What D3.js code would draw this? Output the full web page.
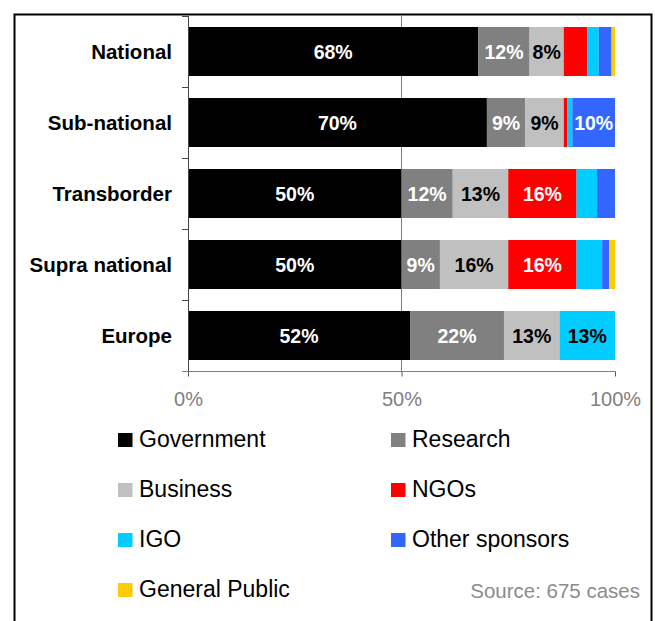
<!DOCTYPE html>
<html>
<head>
<meta charset="utf-8">
<script src="https://cdn.jsdelivr.net/npm/d3@7"></script>
<style>
  html, body { margin: 0; padding: 0; background: #fff; }
  svg { display: block; font-family: "Liberation Sans", Arial, sans-serif; }
</style>
</head>
<body>
<svg id="chart" width="655" height="621"></svg>
<script>
// Share of sponsors by project level (percent of cases)
const categories = ["National", "Sub-national", "Transborder", "Supra national", "Europe"];
const seriesNames = ["Government", "Research", "Business", "NGOs", "IGO", "Other sponsors", "General Public"];
const government    = [68, 70, 50, 50, 52];
const research      = [12,  9, 12,  9, 22];
const business      = [ 8,  9, 13, 16, 13];
const ngos          = [5.5, 0.8, 16, 16, 0];
const igo           = [2.7, 1.2, 4.8, 6, 13];
const otherSponsors = [3, 10, 4.2, 1.6, 0];
const generalPublic = [0.8, 0, 0, 1.4, 0];
const xTicks = [0, 50, 100];
const sourceNote = "Source: 675 cases";

const seriesValues = [government, research, business, ngos, igo, otherSponsors, generalPublic];
const colors = ["#000000", "#808080", "#c0c0c0", "#ff0000", "#00ccff", "#3366ff", "#ffcc00"];
const labelColors = ["#fff", "#fff", "#000", "#fff", "#000", "#fff", "#000"];

const rows = categories.map((c, i) => {
  const r = { category: c };
  seriesNames.forEach((s, k) => { r[s] = seriesValues[k][i]; });
  return r;
});

const svg = d3.select("#chart");

// outer frame
svg.append("rect")
  .attr("x", 14.5).attr("y", 14.5)
  .attr("width", 637).attr("height", 620)
  .attr("fill", "none").attr("stroke", "#000").attr("stroke-width", 2);

const x = d3.scaleLinear().domain([0, 100]).range([188, 615]);
const y = d3.scaleBand().domain(categories).range([16, 371])
  .paddingInner(0.31).paddingOuter(0.155);

const stack = d3.stack().keys(seriesNames);
const layers = stack(rows);

// gridline at 50%
svg.append("line")
  .attr("x1", x(50)).attr("x2", x(50))
  .attr("y1", 16).attr("y2", 371)
  .attr("stroke", "#808080").attr("stroke-width", 1);

// bars
const g = svg.append("g");
layers.forEach((layer, k) => {
  g.append("g").attr("fill", colors[k])
    .selectAll("rect").data(layer).join("rect")
    .attr("x", d => x(d[0]))
    .attr("y", d => y(d.data.category))
    .attr("width", d => x(d[1]) - x(d[0]))
    .attr("height", y.bandwidth());
});

// value labels for the larger segments
layers.forEach((layer, k) => {
  svg.append("g")
    .selectAll("text").data(layer.filter(d => d[1] - d[0] >= 7.5)).join("text")
    .attr("x", d => x((d[0] + d[1]) / 2))
    .attr("y", d => y(d.data.category) + y.bandwidth() / 2)
    .attr("dy", "0.36em")
    .attr("text-anchor", "middle")
    .attr("font-size", "19.5px")
    .attr("font-weight", "bold")
    .attr("fill", labelColors[k])
    .text(d => Math.round(d[1] - d[0]) + "%");
});

// x axis
const xAxis = svg.append("g")
  .attr("transform", "translate(0,371.5)")
  .call(d3.axisBottom(x).tickValues(xTicks).tickFormat(d => d + "%").tickSize(5).tickSizeOuter(0));
xAxis.select(".domain").remove();
xAxis.selectAll(".tick line").attr("stroke", "#555");
xAxis.selectAll(".tick text")
  .attr("y", 20)
  .attr("font-size", "20px")
  .attr("font-family", "'Liberation Sans', Arial, sans-serif")
  .attr("fill", "#808080");

// baseline
svg.append("line")
  .attr("x1", 182).attr("x2", 615)
  .attr("y1", 371.5).attr("y2", 371.5)
  .attr("stroke", "#808080");

// y axis line and category ticks
svg.append("line")
  .attr("x1", 188.5).attr("x2", 188.5)
  .attr("y1", 16).attr("y2", 371)
  .attr("stroke", "#444");
const boundaries = d3.range(categories.length + 1).map(i => 16 + i * y.step());
svg.append("g").selectAll("line").data(boundaries.slice(0, -1)).join("line")
  .attr("x1", 182).attr("x2", 188)
  .attr("y1", d => Math.round(d) + 0.5).attr("y2", d => Math.round(d) + 0.5)
  .attr("stroke", "#444");

// category labels
svg.append("g").selectAll("text").data(categories).join("text")
  .attr("x", 172)
  .attr("y", d => y(d) + y.bandwidth() / 2)
  .attr("dy", "0.36em")
  .attr("text-anchor", "end")
  .attr("font-size", "20.5px")
  .attr("font-weight", "bold")
  .attr("fill", "#000")
  .text(d => d);

// legend, two columns
const legend = svg.append("g");
seriesNames.forEach((s, k) => {
  const col = k % 2, row = Math.floor(k / 2);
  const lx = col === 0 ? 118 : 391;
  const ly = 440 + row * 50;
  legend.append("rect")
    .attr("x", lx).attr("y", ly - 7)
    .attr("width", 14.5).attr("height", 14)
    .attr("fill", colors[k]);
  legend.append("text")
    .attr("x", lx + 21).attr("y", ly + 7)
    .attr("font-size", "23px")
    .attr("fill", "#000")
    .text(s);
});

svg.append("text")
  .attr("x", 640).attr("y", 598)
  .attr("text-anchor", "end")
  .attr("font-size", "20.5px")
  .attr("fill", "#8c8c8c")
  .text(sourceNote);
</script>
</body>
</html>
